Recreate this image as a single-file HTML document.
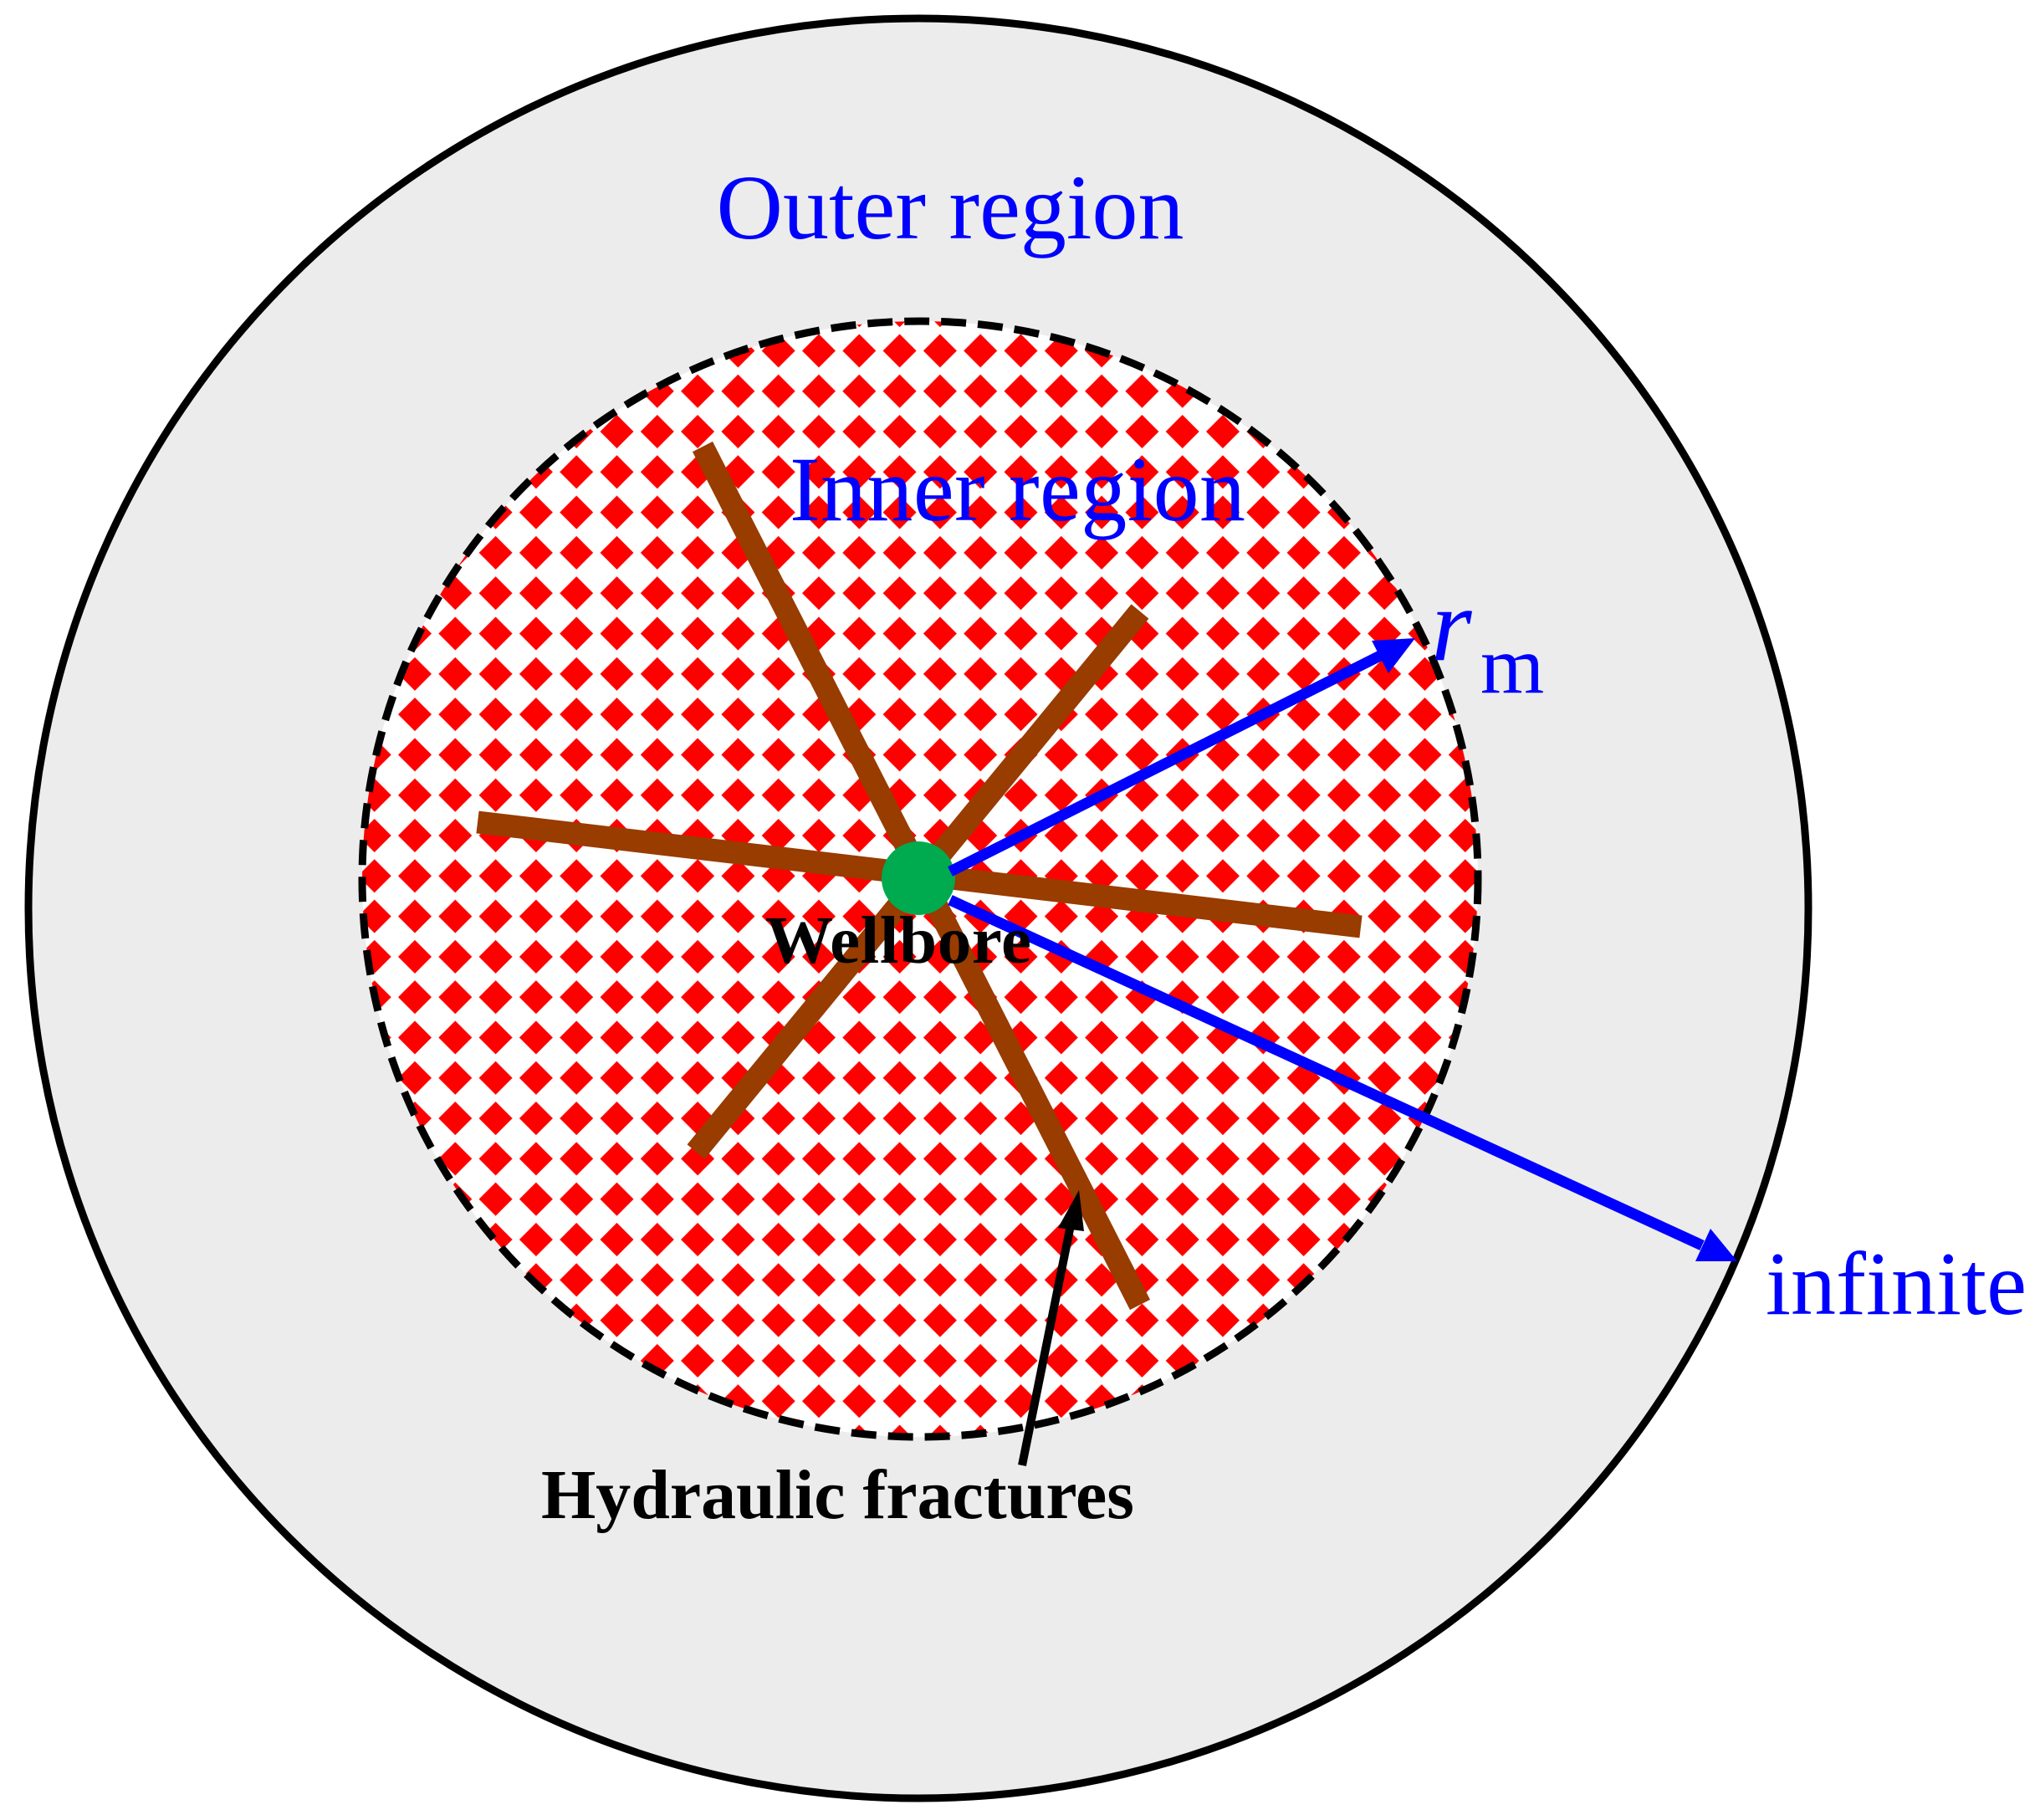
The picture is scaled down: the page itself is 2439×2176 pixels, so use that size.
<!DOCTYPE html>
<html><head><meta charset="utf-8"><style>html,body{margin:0;padding:0;background:#fff}svg{display:block}</style></head>
<body>
<svg width="2439" height="2176" viewBox="0 0 2439 2176" xmlns="http://www.w3.org/2000/svg">
<defs>
<pattern id="dia" x="13" y="33" width="48.3" height="48.3" patternUnits="userSpaceOnUse">
<rect width="48.3" height="48.3" fill="#fff"/>
<polygon points="0,-20 20,0 0,20 -20,0" fill="#ff0000"/>
<polygon points="48.3,-20 68.3,0 48.3,20 28.3,0" fill="#ff0000"/>
<polygon points="0,28.3 20,48.3 0,68.3 -20,48.3" fill="#ff0000"/>
<polygon points="48.3,28.3 68.3,48.3 48.3,68.3 28.3,48.3" fill="#ff0000"/>
</pattern>
</defs>
<circle cx="1098" cy="1086" r="1064" fill="#ececec" stroke="#000" stroke-width="9"/>
<circle cx="1100" cy="1051" r="667" fill="url(#dia)" stroke="#000" stroke-width="9" stroke-dasharray="30 14"/>
<g stroke="#983c00" stroke-width="27">
<line x1="840" y1="534" x2="1363" y2="1560"/>
<line x1="1363" y1="731" x2="832" y2="1377"/>
<line x1="571" y1="983" x2="1627" y2="1108"/>
</g>
<circle cx="1098" cy="1050" r="44" fill="#00aa4f"/>
<g stroke="#0000ff" stroke-width="13">
<line x1="1136" y1="1042" x2="1650" y2="784"/>
<line x1="1136" y1="1076" x2="2035" y2="1489"/>
</g>
<polygon points="1692,763 1640,766 1660,805" fill="#0000ff"/>
<polygon points="2077,1508 2027,1508 2045,1469" fill="#0000ff"/>
<line x1="1222" y1="1752" x2="1282" y2="1455" stroke="#000" stroke-width="10"/>
<polygon points="1290,1423 1265,1468 1296,1472" fill="#000"/>
<g font-family="Liberation Serif, serif">
<text x="1136" y="285" font-size="110" fill="#0000ff" text-anchor="middle">Outer region</text>
<text x="944" y="622" font-size="110" fill="#0000ff" textLength="545">Inner region</text>
<text x="1711" y="789" font-size="125" fill="#0000ff" font-style="italic">r</text>
<text x="1770" y="828" font-size="98" fill="#0000ff">m</text>
<text x="2111" y="1571" font-size="108" fill="#0000ff" textLength="312">infinite</text>
<text x="915" y="1151" font-size="81" font-weight="bold" fill="#000" textLength="318">Wellbore</text>
<text x="647" y="1815" font-size="84" font-weight="bold" fill="#000" textLength="709">Hydraulic fractures</text>
</g>
</svg>
</body></html>
